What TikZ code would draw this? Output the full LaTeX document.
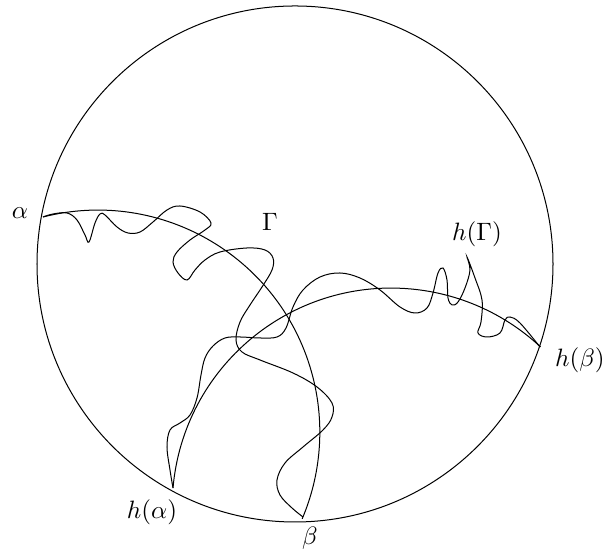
\documentclass[tikz,border=0pt]{standalone}
\begin{document}
\begin{tikzpicture}[x=1.4cm,y=1.4cm]
  \useasboundingbox (0,0) rectangle (6.03,5.57);
  % the disk
  \coordinate (O) at (2.95,2.93);
  \draw (O) circle [radius=2.58];
  % end points on the boundary
  \coordinate (a) at (0.43,3.40);
  \coordinate (b) at (3.03,0.40);
  \coordinate (ha) at (1.73,0.69);
  \coordinate (hb) at (5.40,2.10);
  % arc from alpha to beta, and its image under h
  \draw (a) arc[start angle=104.3, end angle=-23, radius=2.22];
  \draw (ha) arc[start angle=175, end angle=47, radius=2.19];
  % the curve Gamma
  \draw plot[smooth, tension=0.6] coordinates {(a) (0.53,3.43) (0.67,3.44)
    (0.77,3.37) (0.85,3.22) (0.89,3.15) (0.95,3.34) (1.00,3.43) (1.05,3.42)
    (1.17,3.30) (1.28,3.24) (1.40,3.25) (1.53,3.35) (1.67,3.47) (1.80,3.51)
    (2.00,3.45) (2.11,3.34) (2.05,3.27) (1.90,3.17) (1.77,3.05) (1.73,2.95)
    (1.78,2.84) (1.87,2.77) (1.95,2.87) (2.05,2.97) (2.20,3.05) (2.47,3.09)
    (2.65,3.07) (2.73,2.99) (2.72,2.87) (2.62,2.70) (2.50,2.52) (2.40,2.35)
    (2.36,2.17) (2.42,2.05) (2.60,1.97) (2.93,1.84) (3.17,1.70) (3.32,1.54)
    (3.32,1.40) (3.23,1.27) (3.03,1.10) (2.85,0.94) (2.77,0.77) (2.80,0.62)
    (2.92,0.49) (b)};
  % its image h(Gamma)
  \draw plot[smooth, tension=0.6] coordinates {(ha) (1.70,0.87) (1.67,1.10)
    (1.70,1.27) (1.80,1.34) (1.90,1.42) (1.97,1.59) (2.01,1.82) (2.05,1.99)
    (2.13,2.11) (2.25,2.19) (2.40,2.20) (2.60,2.19) (2.77,2.20) (2.86,2.29)
    (2.93,2.50) (3.03,2.67) (3.20,2.80) (3.40,2.84) (3.60,2.79) (3.80,2.67)
    (4.00,2.50) (4.15,2.44) (4.27,2.49) (4.33,2.64) (4.38,2.84) (4.43,2.89)
    (4.47,2.77) (4.48,2.59) (4.52,2.52) (4.58,2.55) (4.65,2.69) (4.70,2.87)
    (4.67,3.00) (4.75,2.79) (4.82,2.57) (4.81,2.35) (4.78,2.24) (4.87,2.20)
    (5.00,2.24) (5.05,2.37) (5.10,2.40) (5.20,2.34) (hb)};
  % labels
  \node (la) at (0.20,3.44) {$\alpha$};
  \node (lb) at (3.10,0.19) {$\beta$};
  \node (lha) at (1.52,0.45) {$h(\alpha)$};
  \node (lhb) at (5.80,1.97) {$h(\beta)$};
  \node (lG) at (2.70,3.35) {$\Gamma$};
  \node (lhG) at (4.77,3.23) {$h(\Gamma)$};
\end{tikzpicture}
\end{document}
